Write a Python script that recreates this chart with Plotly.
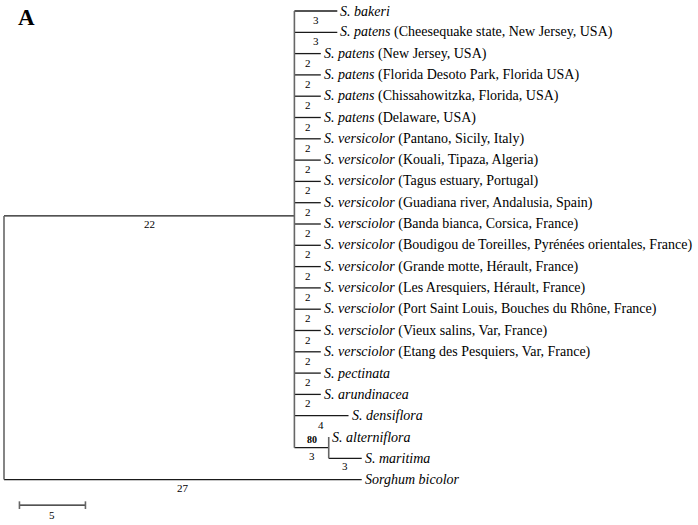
import plotly.graph_objects as go

# ---------------- data ----------------
ingroup_leaves = [
    "<i>S. bakeri</i>",
    "<i>S. patens</i> (Cheesequake state, New Jersey, USA)",
    "<i>S. patens</i> (New Jersey, USA)",
    "<i>S. patens</i> (Florida Desoto Park, Florida USA)",
    "<i>S. patens</i> (Chissahowitzka, Florida, USA)",
    "<i>S. patens</i> (Delaware, USA)",
    "<i>S. versicolor</i> (Pantano, Sicily, Italy)",
    "<i>S. versicolor</i> (Kouali, Tipaza, Algeria)",
    "<i>S. versicolor</i> (Tagus estuary, Portugal)",
    "<i>S. versicolor</i> (Guadiana river, Andalusia, Spain)",
    "<i>S. versciolor</i> (Banda bianca, Corsica, France)",
    "<i>S. versicolor</i> (Boudigou de Toreilles, Pyrénées orientales, France)",
    "<i>S. versicolor</i> (Grande motte, Hérault, France)",
    "<i>S. versicolor</i> (Les Aresquiers, Hérault, France)",
    "<i>S. versciolor</i> (Port Saint Louis, Bouches du Rhône, France)",
    "<i>S. versciolor</i> (Vieux salins, Var, France)",
    "<i>S. versciolor</i> (Etang des Pesquiers, Var, France)",
    "<i>S. pectinata</i>",
    "<i>S. arundinacea</i>",
    "<i>S. densiflora</i>",
]
ingroup_leaf_lengths = [3.25, 3.25] + [2.0] * 17 + [4.1]
ingroup_leaf_labels = ["3", "3"] + ["2"] * 17 + ["4"]

clade_leaves = ["<i>S. alterniflora</i>", "<i>S. maritima</i>"]
clade_leaf_lengths = [0.0, 2.5]
clade_leaf_labels = ["", "3"]
clade_length = 2.6
clade_label = "3"
clade_bootstrap = "80"

ingroup_length = 22.0
ingroup_label = "22"

outgroup_name = "<i>Sorghum bicolor</i>"
outgroup_length = 27.1
outgroup_label = "27"

scale_value = 5
panel_letter = "A"

# ---------------- layout params ----------------
SERIF = "Liberation Serif, Times New Roman, Times, serif"
PX_PER_UNIT = 13.2
ROW_PX = 21.3
X0_PX = 4
Y0_PX = 11
W, H = 698, 525
ingroup_node_row = 9.62
scale_start = 1.17
scale_row = 23.2

hx, hy, vx, vy = [], [], [], []
def hline(x1, x2, y):
    hx.extend([x1, x2, None]); hy.extend([y, y, None])
def vline(x, y1, y2):
    vx.extend([x, x, None]); vy.extend([y1, y2, None])

ann = []
def leaf_text(x, y, txt):
    ann.append(dict(x=x, y=y, text=txt, xanchor="left", yanchor="middle", xshift=1,
                    showarrow=False, font=dict(family=SERIF, size=14, color="black")))
def blabel(x, y, txt, shift=-8, bold=False):
    ann.append(dict(x=x, y=y, text=("<b>%s</b>" % txt) if bold else txt, xanchor="center",
                    yanchor="middle", yshift=shift, showarrow=False,
                    font=dict(family=SERIF, size=10 if bold else 11, color="black")))

# root
x_in = ingroup_length
n_in = len(ingroup_leaves)
clade_row = n_in + 0.5
out_row = n_in + 2
vline(0, ingroup_node_row, out_row)
hline(0, x_in, ingroup_node_row)
blabel(x_in / 2, ingroup_node_row, ingroup_label)
hline(0, outgroup_length, out_row)
blabel(outgroup_length / 2, out_row, outgroup_label)
leaf_text(outgroup_length, out_row, outgroup_name)

# ingroup polytomy
vline(x_in, 0, clade_row)
for i, (nm, ln, lb) in enumerate(zip(ingroup_leaves, ingroup_leaf_lengths, ingroup_leaf_labels)):
    hline(x_in, x_in + ln, i)
    blabel(x_in + ln / 2, i, lb, shift=-9)
    leaf_text(x_in + ln, i, nm)

# subclade
xc = x_in + clade_length
hline(x_in, xc, clade_row)
blabel(x_in + clade_length / 2, clade_row, clade_label)
blabel(x_in + clade_length / 2, clade_row, clade_bootstrap, shift=8, bold=True)
vline(xc, n_in, n_in + 1)
for j, (nm, ln, lb) in enumerate(zip(clade_leaves, clade_leaf_lengths, clade_leaf_labels)):
    r = n_in + j
    if ln > 0:
        hline(xc, xc + ln, r)
        blabel(xc + ln / 2, r, lb)
    leaf_text(xc + ln, r, nm)

# scale bar
hline(scale_start, scale_start + scale_value, scale_row)
tick = 0.18
vline(scale_start, scale_row - tick, scale_row + tick)
vline(scale_start + scale_value, scale_row - tick, scale_row + tick)
blabel(scale_start + scale_value / 2, scale_row, str(scale_value), shift=-10)

fig = go.Figure()
fig.add_trace(go.Scatter(x=hx, y=hy, mode="lines", line=dict(color="#1a1a1a", width=1.3),
                         hoverinfo="skip", showlegend=False, cliponaxis=False))
fig.add_trace(go.Scatter(x=vx, y=vy, mode="lines", line=dict(color="#666666", width=1.6),
                         hoverinfo="skip", showlegend=False, cliponaxis=False))

ann.append(dict(x=26 / W, y=1 - 17 / H, xref="paper", yref="paper",
                text="<b>%s</b>" % panel_letter, showarrow=False, xanchor="center",
                yanchor="middle", font=dict(family=SERIF, size=23, color="black")))

x_range = [-X0_PX / PX_PER_UNIT, (W - X0_PX) / PX_PER_UNIT]
y_range = [(H - Y0_PX) / ROW_PX, -Y0_PX / ROW_PX]

fig.update_layout(
    width=W, height=H, margin=dict(l=0, r=0, t=0, b=0),
    paper_bgcolor="white", plot_bgcolor="white",
    font=dict(family=SERIF),
    xaxis=dict(visible=False, range=x_range, fixedrange=True),
    yaxis=dict(visible=False, range=y_range, fixedrange=True),
    annotations=ann,
)
fig.write_html("out.html", config={"displayModeBar": False},
               post_script="document.body.style.margin='0';document.body.style.overflow='hidden';")
